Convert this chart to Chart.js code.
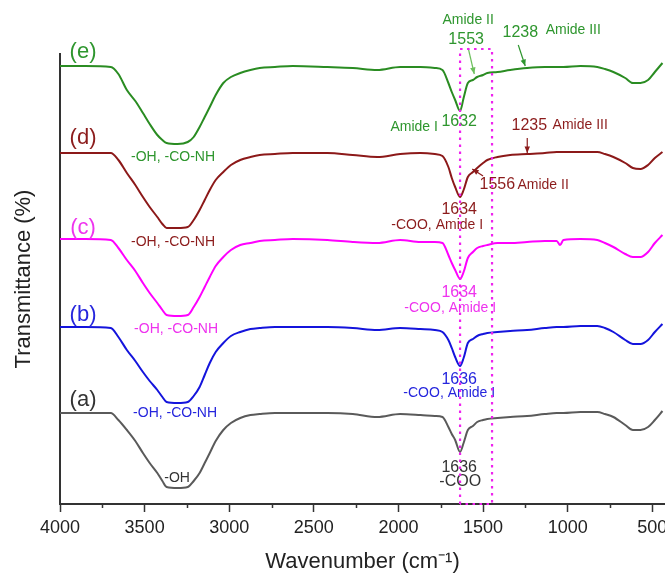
<!DOCTYPE html>
<html>
<head>
<meta charset="utf-8">
<title>FTIR spectra</title>
<script src="https://cdn.jsdelivr.net/npm/chart.js@4.4.0/dist/chart.umd.min.js"></script>
<style>
    html, body { margin: 0; padding: 0; background: #fff; }
    #wrap { width: 665px; height: 576px; }
</style>
</head>
<body>
<div id="wrap"><canvas id="ftirChart" width="665" height="576"></canvas></div>
<script>
// Wavenumber grid (cm-1), shared by all five spectra
const wavenumbers = [4000, 3850, 3700, 3655, 3605, 3555, 3510, 3470, 3425, 3395,
    3370, 3305, 3245, 3210, 3175, 3145, 3115, 3080, 3035, 2990,
    2935, 2875, 2820, 2730, 2625, 2420, 2270, 2125, 1990, 1870,
    1785, 1740, 1705, 1685, 1665, 1636, 1615, 1590, 1560, 1535,
    1500, 1475, 1415, 1340, 1240, 1135, 1065, 1045, 1025, 925,
    825, 780, 730, 660, 615, 570, 525, 485, 440];

// Offset transmittance for each sample (stacked, arbitrary units)
const sampleA = [91, 91, 91, 84, 74, 63, 51, 41, 31, 23,
    17, 16, 17, 23, 31, 41, 51, 63, 74, 81,
    86, 89, 90, 91, 91, 91, 90, 87, 90, 89,
    88, 87, 77, 70, 64, 52, 61, 74, 78, 82,
    84, 85, 86, 87, 88, 90, 91, 91, 91, 92,
    92, 90, 87, 79, 74, 74, 77, 84, 93];
const sampleB = [177, 177, 176, 167, 154, 143, 132, 123, 114, 107,
    102, 101, 102, 108, 117, 129, 141, 152, 161, 168,
    172, 175, 176, 177, 177, 177, 176, 174, 176, 175,
    174, 172, 164, 156, 147, 138, 146, 161, 165, 168,
    170, 171, 172, 173, 174, 176, 177, 177, 177, 178,
    178, 176, 172, 164, 160, 160, 164, 172, 180];
const sampleC = [265, 265, 264, 256, 244, 233, 221, 211, 201, 194,
    189, 188, 189, 197, 207, 217, 227, 238, 247, 254,
    259, 261, 263, 264, 265, 264, 262, 261, 264, 262,
    262, 261, 249, 241, 234, 225, 232, 246, 252, 256,
    258, 259, 261, 261, 262, 263, 263, 259, 264, 265,
    264, 261, 257, 250, 247, 247, 252, 261, 269];
const sampleD = [351, 351, 351, 344, 331, 319, 307, 297, 287, 280,
    276, 276, 277, 284, 294, 304, 314, 324, 332, 339,
    344, 347, 349, 350, 351, 351, 349, 347, 350, 351,
    350, 348, 337, 326, 317, 307, 314, 327, 332, 336,
    341, 344, 347, 349, 350, 351, 352, 352, 352, 352,
    352, 350, 347, 341, 336, 335, 339, 346, 352];
const sampleE = [438, 438, 437, 430, 414, 403, 391, 380, 369, 364,
    361, 360, 362, 367, 377, 387, 397, 409, 421, 427,
    431, 434, 436, 437, 438, 437, 436, 434, 437, 437,
    436, 434, 421, 412, 404, 393, 406, 421, 424, 427,
    429, 431, 432, 434, 436, 437, 437, 437, 437, 438,
    437, 435, 432, 426, 421, 421, 424, 432, 441];

const sampleNames = ['(a)', '(b)', '(c)', '(d)', '(e)'];
const xTicks = [4000, 3500, 3000, 2500, 2000, 1500, 1000, 500];
const minorTicks = [3750, 3250, 2750, 2250, 1750, 1250, 750];

const colors = {
    a: '#5a5a5a',
    b: '#1414dc',
    c: '#ff00ff',
    d: '#8c1919',
    e: '#2a8c22'
};
const textColors = {
    a: '#333333',
    b: '#2626dd',
    c: '#ee33ee',
    d: '#8c1c1c',
    e: '#2e962e'
};

// Annotations, placed in data coordinates (wavenumber, offset value)
const notes = [
    { text: sampleNames[4], wn: 3864, v: 452, size: 22, key: 'e' },
    { text: sampleNames[3], wn: 3864, v: 366, size: 22, key: 'd' },
    { text: sampleNames[2], wn: 3864, v: 276, size: 22, key: 'c' },
    { text: sampleNames[1], wn: 3864, v: 189, size: 22, key: 'b' },
    { text: sampleNames[0], wn: 3864, v: 104, size: 22, key: 'a' },
    { text: '-OH, -CO-NH', wn: 3332, v: 347, size: 14, key: 'e' },
    { text: '-OH, -CO-NH', wn: 3332, v: 262, size: 14, key: 'd' },
    { text: '-OH, -CO-NH', wn: 3314, v: 175, size: 14, key: 'c' },
    { text: '-OH, -CO-NH', wn: 3320, v: 91, size: 14, key: 'b' },
    { text: '-OH', wn: 3308, v: 26, size: 14, key: 'a' },
    { text: 'Amide II', wn: 1588, v: 484, size: 14, key: 'e' },
    { text: '1553', wn: 1600, v: 464, size: 16, key: 'e' },
    { text: '1238', wn: 1280, v: 471, size: 16, key: 'e' },
    { text: 'Amide III', wn: 967, v: 474, size: 14, key: 'e' },
    { text: '1632', wn: 1641, v: 382, size: 16, key: 'e' },
    { text: 'Amide I', wn: 1907, v: 377, size: 14, key: 'e' },
    { text: '1235', wn: 1227, v: 378, size: 16, key: 'd' },
    { text: 'Amide III', wn: 926, v: 379, size: 14, key: 'd' },
    { text: '1556', wn: 1416, v: 319, size: 16, key: 'd' },
    { text: 'Amide II', wn: 1145, v: 319, size: 14, key: 'd' },
    { text: '1634', wn: 1641, v: 294, size: 16, key: 'd' },
    { text: '-COO, Amide I', wn: 1771, v: 279, size: 14, key: 'd' },
    { text: '1634', wn: 1641, v: 211, size: 16, key: 'c' },
    { text: '-COO, Amide I', wn: 1694, v: 196, size: 14, key: 'c' },
    { text: '1636', wn: 1641, v: 124, size: 16, key: 'b' },
    { text: '-COO, Amide I', wn: 1700, v: 111, size: 14, key: 'b' },
    { text: '1636', wn: 1641, v: 36, size: 16, key: 'a' },
    { text: '-COO', wn: 1635, v: 22, size: 16, key: 'a' }
];

const arrows = [
    { from: [1588, 456], to: [1552, 430], color: '#6cbf5c' },
    { from: [1292, 459], to: [1251, 438], color: '#2e962e' },
    { from: [1239, 366], to: [1239, 351], color: '#8c1c1c' },
    { from: [1500, 328], to: [1564, 335], color: '#8c1c1c' }
];

// Dotted box around the amide region
const boxRange = { wnLeft: 1636, wnRight: 1447, vTop: 455, vBottom: 0 };

const fontFamily = '"Liberation Sans", Arial, sans-serif';
Chart.defaults.font.family = fontFamily;

const notesPlugin = {
    id: 'ftirNotes',
    afterDatasetsDraw(chart) {
        const { ctx, scales: { x, y } } = chart;
        ctx.save();

        // Minor ticks on the wavenumber axis
        ctx.strokeStyle = '#333';
        ctx.lineWidth = 1.5;
        minorTicks.forEach(t => {
            const px = Math.round(x.getPixelForValue(t)) + 0.5;
            ctx.beginPath();
            ctx.moveTo(px, y.bottom);
            ctx.lineTo(px, y.bottom + 4);
            ctx.stroke();
        });

        // Text labels
        ctx.textAlign = 'center';
        ctx.textBaseline = 'middle';
        notes.forEach(n => {
            ctx.font = `${n.size}px ${fontFamily}`;
            ctx.fillStyle = textColors[n.key];
            ctx.fillText(n.text, x.getPixelForValue(n.wn), y.getPixelForValue(n.v));
        });

        // Arrows
        arrows.forEach(a => {
            const x1 = x.getPixelForValue(a.from[0]);
            const y1 = y.getPixelForValue(a.from[1]);
            const x2 = x.getPixelForValue(a.to[0]);
            const y2 = y.getPixelForValue(a.to[1]);
            const ang = Math.atan2(y2 - y1, x2 - x1);
            ctx.strokeStyle = a.color;
            ctx.fillStyle = a.color;
            ctx.lineWidth = 1.2;
            ctx.beginPath();
            ctx.moveTo(x1, y1);
            ctx.lineTo(x2, y2);
            ctx.stroke();
            ctx.beginPath();
            ctx.moveTo(x2, y2);
            ctx.lineTo(x2 - 7 * Math.cos(ang - 0.4), y2 - 7 * Math.sin(ang - 0.4));
            ctx.lineTo(x2 - 7 * Math.cos(ang + 0.4), y2 - 7 * Math.sin(ang + 0.4));
            ctx.closePath();
            ctx.fill();
        });

        // Dotted magenta box
        const bl = x.getPixelForValue(boxRange.wnLeft);
        const br = x.getPixelForValue(boxRange.wnRight);
        const bt = y.getPixelForValue(boxRange.vTop);
        const bb = y.getPixelForValue(boxRange.vBottom);
        ctx.strokeStyle = '#ee22ee';
        ctx.lineWidth = 2.2;
        ctx.setLineDash([2.5, 4.5]);
        ctx.beginPath();
        ctx.moveTo(bl, bb);
        ctx.lineTo(bl, bt);
        ctx.lineTo(br, bt);
        ctx.lineTo(br, bb);
        ctx.lineTo(bl, bb);
        ctx.stroke();

        ctx.restore();
    }
};

function makeSeries(label, values, color) {
    return {
        label: label,
        data: values.map((v, i) => ({ x: wavenumbers[i], y: v })),
        borderColor: color,
        borderWidth: 2,
        pointRadius: 0,
        fill: false,
        tension: 0.4,
        cubicInterpolationMode: 'monotone'
    };
}

document.addEventListener('DOMContentLoaded', () => {
    new Chart(document.getElementById('ftirChart'), {
        type: 'line',
        data: {
            datasets: [
                makeSeries(sampleNames[0], sampleA, colors.a),
                makeSeries(sampleNames[1], sampleB, colors.b),
                makeSeries(sampleNames[2], sampleC, colors.c),
                makeSeries(sampleNames[3], sampleD, colors.d),
                makeSeries(sampleNames[4], sampleE, colors.e)
            ]
        },
        options: {
            responsive: false,
            animation: false,
            layout: { padding: { top: 54, right: 0, bottom: 0, left: 0 } },
            plugins: {
                legend: { display: false },
                tooltip: { enabled: false }
            },
            scales: {
                x: {
                    type: 'linear',
                    reverse: true,
                    min: 425,
                    max: 4000,
                    afterBuildTicks: s => { s.ticks = xTicks.map(v => ({ value: v })); },
                    afterFit: s => { s.height = 72; s.paddingLeft = 0; s.paddingRight = 0; },
                    grid: { drawOnChartArea: false, tickLength: 8, tickColor: '#333', tickWidth: 1.5 },
                    border: { color: '#333', width: 2 },
                    ticks: {
                        color: '#222',
                        padding: 5,
                        maxRotation: 0,
                        autoSkip: false,
                        font: { size: 18 },
                        callback: v => String(v)
                    },
                    title: {
                        display: true,
                        text: 'Wavenumber (cm\u207B\u00B9)',
                        color: '#222',
                        font: { size: 22 },
                        padding: { top: 0, bottom: 1 }
                    }
                },
                y: {
                    min: 0,
                    max: 450,
                    afterFit: s => { s.width = 60; },
                    grid: { drawOnChartArea: false, drawTicks: false },
                    border: { color: '#333', width: 2 },
                    ticks: { display: false },
                    title: {
                        display: true,
                        text: 'Transmittance (%)',
                        color: '#222',
                        font: { size: 22 },
                        padding: { top: 11, bottom: 0 }
                    }
                }
            }
        },
        plugins: [notesPlugin]
    });
});
</script>
</body>
</html>
